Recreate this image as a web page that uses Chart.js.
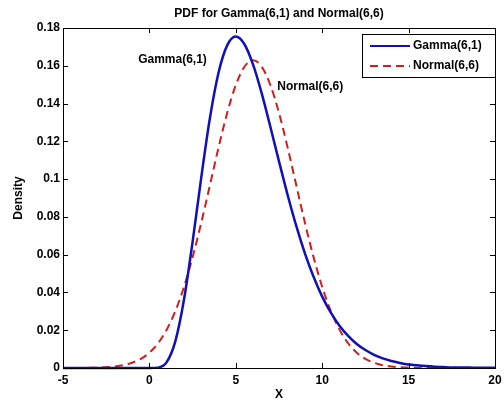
<!DOCTYPE html>
<html>
<head>
<meta charset="utf-8">
<script src="https://cdn.jsdelivr.net/npm/chart.js@4"></script>
<style>
  html, body { margin: 0; padding: 0; background: #fff; }
  #wrap { width: 504px; height: 405px; }
</style>
</head>
<body>
<div id="wrap"><canvas id="pdfChart" width="504" height="405"></canvas></div>
<script>
const xs = [-5, -4.5, -4, -3.5, -3, -2.5, -2, -1.5, -1, -0.5, 0, 0.5, 1, 1.5, 2, 2.5, 3, 3.5, 4, 4.5,
    5, 5.5, 6, 6.5, 7, 7.5, 8, 8.5, 9, 9.5, 10, 10.5, 11, 11.5, 12, 12.5, 13, 13.5, 14, 14.5,
    15, 15.5, 16, 16.5, 17, 17.5, 18, 18.5, 19, 19.5, 20];

const gammaPdf = [0, 0, 0, 0, 0, 0, 0, 0, 0, 0, 0, 0.0002, 0.0031, 0.0141, 0.0361, 0.0668, 0.1008, 0.1322, 0.1563, 0.1708,
    0.1755, 0.1714, 0.1606, 0.1454, 0.1277, 0.1094, 0.0916, 0.0752, 0.0607, 0.0483, 0.0378, 0.0293, 0.0224, 0.0170, 0.0127, 0.0095, 0.0070, 0.0051, 0.0037, 0.0027,
    0.0019, 0.0014, 0.0010, 0.0007, 0.0005, 0.0003, 0.0002, 0.0002, 0.0001, 0.0001, 0.0001];

const normalPdf = [0, 0, 0, 0.0001, 0.0002, 0.0004, 0.0008, 0.0015, 0.0028, 0.0048, 0.0081, 0.0131, 0.0203, 0.0301, 0.0429, 0.0587, 0.0769, 0.0967, 0.1167, 0.1350,
    0.1498, 0.1595, 0.1629, 0.1595, 0.1498, 0.1350, 0.1167, 0.0967, 0.0769, 0.0587, 0.0429, 0.0301, 0.0203, 0.0131, 0.0081, 0.0048, 0.0028, 0.0015, 0.0008, 0.0004,
    0.0002, 0.0001, 0, 0, 0, 0, 0, 0, 0, 0, 0];

const xTicks = [-5, 0, 5, 10, 15, 20];
const yTicks = [0, 0.02, 0.04, 0.06, 0.08, 0.1, 0.12, 0.14, 0.16, 0.18];

const seriesNames = ["Gamma(6,1)", "Normal(6,6)"];
const titleText = "PDF for Gamma(6,1) and Normal(6,6)";
// text labels placed in data coordinates
const notes = [
    { text: "Gamma(6,1)", x: -0.65, y: 0.163 },
    { text: "Normal(6,6)", x: 7.4, y: 0.1488 }
];

const FONT = "bold 12px 'Liberation Sans', Arial, sans-serif";
const BLUE = "#1010b8";
const RED = "#d41c1c";

// matlab style: box, inward ticks, title, labels, legend
const matlabBox = {
    id: "matlabBox",
    afterDatasetsDraw(chart) {
        const { ctx, chartArea: a, scales } = chart;
        const sx = scales.x, sy = scales.y;
        ctx.save();
        ctx.strokeStyle = "#000";
        ctx.lineWidth = 1;
        ctx.strokeRect(a.left + 0.5, a.top + 0.5, a.right - a.left, a.bottom - a.top);

        ctx.beginPath();
        xTicks.forEach(v => {
            const px = Math.round(sx.getPixelForValue(v)) + 0.5;
            ctx.moveTo(px, a.bottom); ctx.lineTo(px, a.bottom - 5);
            ctx.moveTo(px, a.top); ctx.lineTo(px, a.top + 5);
        });
        yTicks.forEach(v => {
            const py = Math.round(sy.getPixelForValue(v)) + 0.5;
            ctx.moveTo(a.left, py); ctx.lineTo(a.left + 5, py);
            ctx.moveTo(a.right, py); ctx.lineTo(a.right - 5, py);
        });
        ctx.stroke();

        ctx.font = FONT;
        ctx.fillStyle = "#000";

        // title
        ctx.textAlign = "center";
        ctx.textBaseline = "middle";
        ctx.fillText(titleText, (a.left + a.right) / 2, 14);

        // axis labels
        ctx.fillText("X", (a.left + a.right) / 2, 395);
        ctx.save();
        ctx.translate(19, (a.top + a.bottom) / 2);
        ctx.rotate(-Math.PI / 2);
        ctx.fillText("Density", 0, 0);
        ctx.restore();

        // in-plot notes
        ctx.textAlign = "left";
        notes.forEach(n => {
            ctx.fillText(n.text, sx.getPixelForValue(n.x), sy.getPixelForValue(n.y));
        });

        // legend
        const lx = 362, ly = 34, lw = 133, lh = 43;
        ctx.fillStyle = "#fff";
        ctx.fillRect(lx, ly, lw, lh);
        ctx.strokeRect(lx + 0.5, ly + 0.5, lw, lh);
        const ds = chart.data.datasets;
        [46, 66].forEach((yy, i) => {
            ctx.beginPath();
            ctx.strokeStyle = ds[i].borderColor;
            ctx.lineWidth = 2;
            ctx.setLineDash(ds[i].borderDash || []);
            ctx.moveTo(370, yy); ctx.lineTo(410, yy);
            ctx.stroke();
            ctx.setLineDash([]);
            ctx.fillStyle = "#000";
            ctx.fillText(seriesNames[i], 413, yy);
        });
        ctx.restore();
    }
};

new Chart(document.getElementById("pdfChart"), {
    type: "line",
    data: {
        datasets: [
            {
                label: seriesNames[0],
                data: xs.map((x, i) => ({ x, y: gammaPdf[i] })),
                borderColor: BLUE,
                borderWidth: 2.5,
                pointRadius: 0,
                cubicInterpolationMode: "monotone",
                clip: 3
            },
            {
                label: seriesNames[1],
                data: xs.map((x, i) => ({ x, y: normalPdf[i] })),
                borderColor: RED,
                borderWidth: 2,
                borderDash: [8, 5],
                pointRadius: 0,
                cubicInterpolationMode: "monotone",
                clip: 3
            }
        ]
    },
    options: {
        responsive: false,
        animation: false,
        layout: { padding: { top: 28, right: 9, left: 0, bottom: 0 } },
        plugins: {
            legend: { display: false },
            title: { display: false },
            tooltip: { enabled: false }
        },
        scales: {
            x: {
                type: "linear",
                min: -5,
                max: 20,
                afterFit: s => { s.height = 37; },
                afterBuildTicks: s => { s.ticks = xTicks.map(v => ({ value: v })); },
                grid: { display: false },
                border: { display: false },
                ticks: {
                    color: "#000",
                    font: { family: "'Liberation Sans', Arial, sans-serif", size: 12, weight: "bold" },
                    padding: -3,
                    maxRotation: 0
                }
            },
            y: {
                min: 0,
                max: 0.18,
                afterFit: s => { s.width = 63; },
                afterBuildTicks: s => { s.ticks = yTicks.map(v => ({ value: v })); },
                grid: { display: false },
                border: { display: false },
                ticks: {
                    color: "#000",
                    font: { family: "'Liberation Sans', Arial, sans-serif", size: 12, weight: "bold" },
                    padding: -5,
                    callback: v => String(+v.toFixed(2))
                }
            }
        }
    },
    plugins: [matlabBox]
});
</script>
</body>
</html>
